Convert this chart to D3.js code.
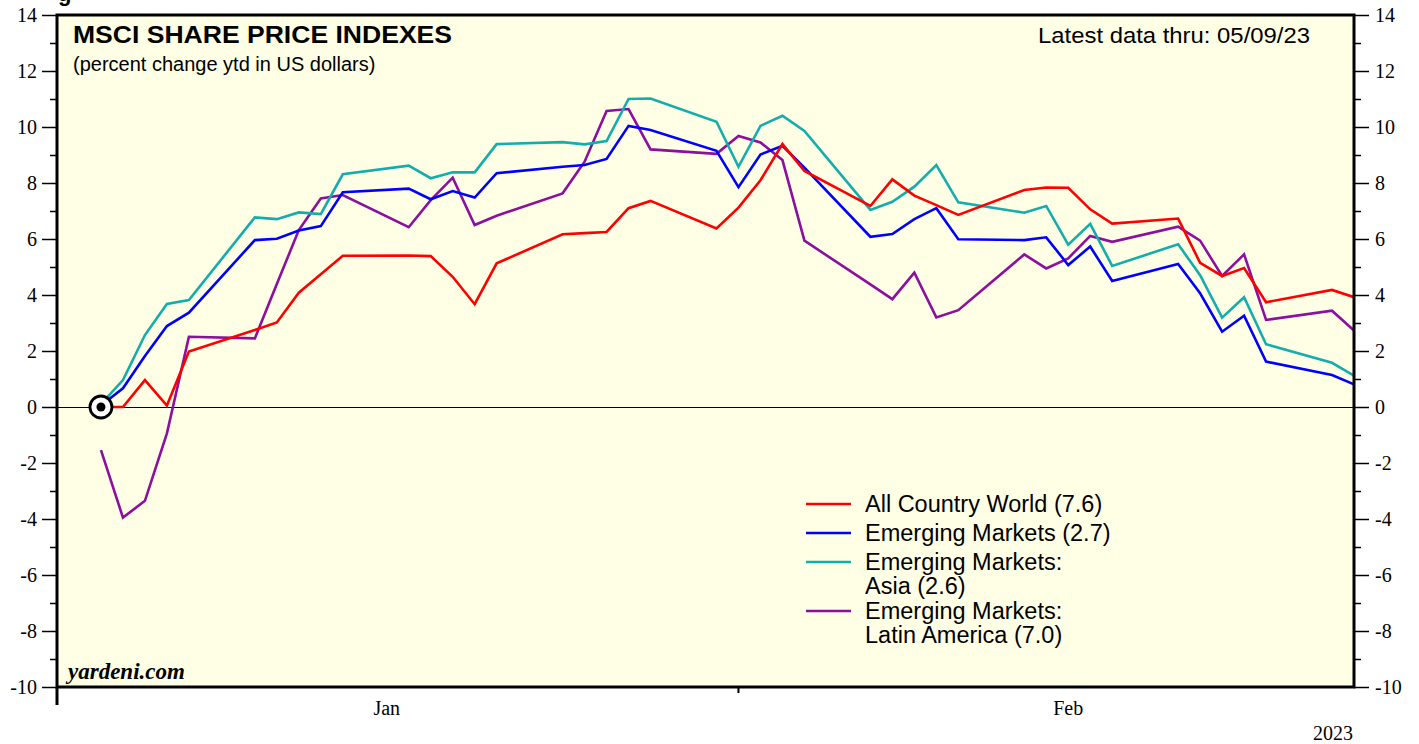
<!DOCTYPE html>
<html>
<head>
<meta charset="utf-8">
<script src="https://cdn.jsdelivr.net/npm/d3@7"></script>
<style>
  body { margin: 0; background: #fff; }
  svg { display: block; }
  .sans { font-family: "Liberation Sans", Arial, sans-serif; }
  .serif { font-family: "Liberation Serif", "Times New Roman", serif; }
</style>
</head>
<body>
<svg id="chart" width="1419" height="744"></svg>
<script>
// days after Jan 1 2023 for each observation
var dayOffsets = [2,3,4,5,6, 9,10,11,12,13, 16,17,18,19,20, 23,24,25,26,27,
  30,31,32,33,34, 37,38,39,40,41, 44,45,46,47,48, 51,52,53,54,55, 58,59];

var allCountry = [0, 0, 0.96, 0.05, 1.98,
  2.75, 3.02, 4.08, 4.74, 5.40,
  5.41, 5.39, 4.65, 3.67, 5.13,
  6.17, 6.21, 6.25, 7.10, 7.36,
  6.38, 7.12, 8.10, 9.39, 8.43,
  7.18, 8.13, 7.55, 7.21, 6.86,
  7.75, 7.84, 7.83, 7.06, 6.55,
  6.73, 5.15, 4.68, 4.96, 3.74,
  4.18, 3.92];

var emerging = [0.05, 0.67, 1.82, 2.89, 3.37,
  5.96, 6.01, 6.30, 6.46, 7.67,
  7.80, 7.42, 7.71, 7.48, 8.35,
  8.58, 8.64, 8.86, 10.04, 9.89,
  9.15, 7.85, 9.02, 9.33, 8.55,
  6.08, 6.18, 6.71, 7.10, 5.99,
  5.96, 6.06, 5.07, 5.73, 4.50,
  5.11, 4.06, 2.69, 3.26, 1.62,
  1.14, 0.81];

var emAsia = [0.10, 0.96, 2.57, 3.68, 3.82,
  6.77, 6.71, 6.95, 6.89, 8.31,
  8.62, 8.17, 8.38, 8.38, 9.39,
  9.46, 9.38, 9.50, 11.00, 11.02,
  10.19, 8.58, 10.04, 10.40, 9.86,
  7.04, 7.33, 7.87, 8.64, 7.31,
  6.94, 7.18, 5.80, 6.54, 5.04,
  5.81, 4.71, 3.19, 3.92, 2.24,
  1.58, 1.12];

var emLatAm = [-1.54, -3.95, -3.35, -0.94, 2.51,
  2.45, 4.39, 6.32, 7.45, 7.57,
  6.42, 7.39, 8.19, 6.50, 6.83,
  7.63, 8.76, 10.57, 10.64, 9.20,
  9.04, 9.68, 9.45, 8.82, 5.94,
  4.38, 3.85, 4.80, 3.20, 3.46,
  5.45, 4.95, 5.31, 6.11, 5.90,
  6.44, 5.94, 4.68, 5.45, 3.11,
  3.44, 2.73];

var seriesNames = ["All Country World (7.6)", "Emerging Markets (2.7)",
  "Emerging Markets:|Asia (2.6)", "Emerging Markets:|Latin America (7.0)"];
var seriesColors = ["#ff0000", "#0000ff", "#14adad", "#8c0fa0"];
var seriesValues = [allCountry, emerging, emAsia, emLatAm];

var yMajorTicks = d3.range(-10, 15, 2);
var yMinorTicks = d3.range(-9, 14, 2);
var monthLabels = ["Jan", "Feb"];

var svg = d3.select("#chart");
var margin = {left: 57, right: 65, top: 15, bottom: 57};
var width = 1419 - margin.left - margin.right,
    height = 744 - margin.top - margin.bottom;

var start = new Date(2023, 0, 1);
var x = d3.scaleTime()
  .domain([start, new Date(2023, 2, 1)])
  .range([margin.left, margin.left + width]);
var y = d3.scaleLinear()
  .domain([-10, 14])
  .range([margin.top + height, margin.top]);

var dates = dayOffsets.map(function(d) { return d3.timeDay.offset(start, d); });

// plot background
svg.append("rect")
  .attr("x", x.range()[0]).attr("y", y.range()[1])
  .attr("width", width).attr("height", height)
  .attr("fill", "#ffffe6");

svg.append("defs").append("clipPath").attr("id", "plotclip")
  .append("rect")
  .attr("x", x.range()[0]).attr("y", y.range()[1])
  .attr("width", width).attr("height", height);

// zero line
svg.append("line")
  .attr("x1", x.range()[0]).attr("x2", x.range()[1])
  .attr("y1", y(0) + 0.5).attr("y2", y(0) + 0.5)
  .attr("stroke", "#000").attr("stroke-width", 1)
  .attr("shape-rendering", "crispEdges");

// lines
var line = d3.line()
  .x(function(d, i) { return x(dates[i]); })
  .y(function(d) { return y(d); });

var drawOrder = [3, 2, 1, 0];
var lines = svg.append("g").attr("clip-path", "url(#plotclip)");
drawOrder.forEach(function(k) {
  lines.append("path")
    .datum(seriesValues[k])
    .attr("d", line)
    .attr("fill", "none")
    .attr("stroke", seriesColors[k])
    .attr("stroke-width", 2.6)
    .attr("stroke-linejoin", "miter");
});

// base point marker
svg.append("circle")
  .attr("cx", x(dates[0])).attr("cy", y(0)).attr("r", 11)
  .attr("fill", "#fff").attr("stroke", "#000").attr("stroke-width", 2.8);
svg.append("circle")
  .attr("cx", x(dates[0])).attr("cy", y(0)).attr("r", 4.5)
  .attr("fill", "#000");

// axes
function styleAxis(g) {
  g.select(".domain").remove();
  g.selectAll(".tick line").attr("stroke", "#000").attr("stroke-width", 1.5);
  g.selectAll(".tick text")
    .attr("class", "serif")
    .style("font-size", "20px")
    .attr("fill", "#000");
}
var plain = function(d) { return String(d); };

svg.append("g")
  .attr("transform", "translate(" + x.range()[0] + ",0)")
  .call(d3.axisLeft(y).tickValues(yMajorTicks).tickSize(15).tickPadding(5).tickFormat(plain))
  .call(styleAxis);
svg.append("g")
  .attr("transform", "translate(" + x.range()[0] + ",0)")
  .call(d3.axisLeft(y).tickValues(yMinorTicks).tickSize(7).tickFormat(""))
  .call(styleAxis);
svg.append("g")
  .attr("transform", "translate(" + x.range()[1] + ",0)")
  .call(d3.axisRight(y).tickValues(yMajorTicks).tickSize(15).tickPadding(6).tickFormat(plain))
  .call(styleAxis);
svg.append("g")
  .attr("transform", "translate(" + x.range()[1] + ",0)")
  .call(d3.axisRight(y).tickValues(yMinorTicks).tickSize(7).tickFormat(""))
  .call(styleAxis);

// frame
svg.append("rect")
  .attr("x", x.range()[0]).attr("y", y.range()[1])
  .attr("width", width).attr("height", height)
  .attr("fill", "none").attr("stroke", "#000").attr("stroke-width", 3);

// x axis ticks and labels
var bottom = y.range()[0];
svg.append("line")
  .attr("x1", x(start)).attr("x2", x(start))
  .attr("y1", bottom).attr("y2", bottom + 18)
  .attr("stroke", "#000").attr("stroke-width", 3);
svg.append("line")
  .attr("x1", x(new Date(2023, 1, 1))).attr("x2", x(new Date(2023, 1, 1)))
  .attr("y1", bottom).attr("y2", bottom + 6)
  .attr("stroke", "#000").attr("stroke-width", 2);

monthLabels.forEach(function(m, i) {
  svg.append("text")
    .attr("class", "serif")
    .attr("x", x(new Date(2023, i, 16)))
    .attr("y", bottom + 28)
    .attr("text-anchor", "middle")
    .style("font-size", "20px")
    .text(m);
});
svg.append("text")
  .attr("class", "serif")
  .attr("x", x.range()[1] - 1)
  .attr("y", bottom + 53)
  .attr("text-anchor", "end")
  .style("font-size", "20px")
  .text("2023");

// titles
svg.append("text").attr("class", "sans")
  .attr("x", 58).attr("y", 1)
  .style("font-size", "22px").style("font-weight", "bold")
  .text("g");
svg.append("text").attr("class", "sans")
  .attr("x", 73).attr("y", 43)
  .attr("textLength", 379).attr("lengthAdjust", "spacingAndGlyphs")
  .style("font-size", "24px").style("font-weight", "bold")
  .text("MSCI SHARE PRICE INDEXES");
svg.append("text").attr("class", "sans")
  .attr("x", 73).attr("y", 71)
  .style("font-size", "20px")
  .text("(percent change ytd in US dollars)");
svg.append("text").attr("class", "sans")
  .attr("x", 1038).attr("y", 43)
  .attr("textLength", 272).attr("lengthAdjust", "spacingAndGlyphs")
  .style("font-size", "22.5px")
  .text("Latest data thru: 05/09/23");
svg.append("text").attr("class", "serif")
  .attr("x", 68).attr("y", 679)
  .style("font-size", "23px").style("font-weight", "bold").style("font-style", "italic")
  .text("yardeni.com");

// legend
var legendY = [504, 533, 562, 611];
var legend = svg.append("g");
seriesNames.forEach(function(name, i) {
  legend.append("line")
    .attr("x1", 806).attr("x2", 851)
    .attr("y1", legendY[i]).attr("y2", legendY[i])
    .attr("stroke", seriesColors[i]).attr("stroke-width", 2.6);
  var t = legend.append("text").attr("class", "sans")
    .attr("x", 865).attr("y", legendY[i] + 8)
    .style("font-size", "23.5px");
  name.split("|").forEach(function(part, j) {
    t.append("tspan").attr("x", 865).attr("dy", j === 0 ? 0 : 24).text(part);
  });
});
</script>
</body>
</html>
